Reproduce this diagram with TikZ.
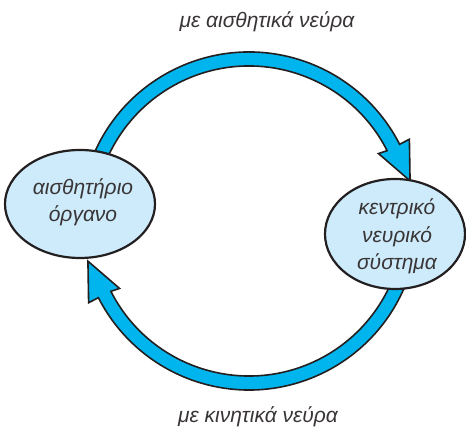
\documentclass[tikz,border=0pt]{standalone}
\usepackage{fontspec}
\setmainfont{Liberation Sans}
\usetikzlibrary{shapes.geometric}
\definecolor{band}{RGB}{0,181,237}
\definecolor{ellfill}{RGB}{205,235,250}
\definecolor{ink}{RGB}{35,31,32}
\begin{document}
\begin{tikzpicture}[x=1pt,y=1pt,
  fatarrow/.style={fill=band, draw=ink, line width=1.6pt, line join=miter},
  organ/.style={ellipse, draw=ink, line width=2.2pt, fill=ellfill, inner sep=0pt},
  organtext/.style={align=center, inner sep=0pt, anchor=base, text=ink!90,
    font=\itshape\fontsize{21}{27.5}\selectfont},
  lab/.style={inner sep=0pt, anchor=base, text=ink!90, font=\itshape\fontsize{21}{24}\selectfont}]
\useasboundingbox (0,0) rectangle (466,427);
\coordinate (c) at (249,206);
% top arrow (sensory nerves)
\draw[fatarrow] ([shift={(160:169)}]c) arc[start angle=160, end angle=27, radius=169]
  -- ([shift={(27:180)}]c) -- ([shift={(14:166)}]c) -- ([shift={(27.5:146)}]c)
  -- ([shift={(27:155)}]c) arc[start angle=27, end angle=160, radius=155] -- cycle;
% bottom arrow (motor nerves)
\draw[fatarrow] ([shift={(-15:169)}]c) arc[start angle=-15, end angle=-153, radius=169]
  -- ([shift={(-153:180)}]c) -- ([shift={(-166:166)}]c) -- ([shift={(-152.5:146)}]c)
  -- ([shift={(-153:155)}]c) arc[start angle=-153, end angle=-15, radius=155] -- cycle;
% organs
\node[organ, minimum width=150, minimum height=108] (sense) at (80,223) {};
\node[organ, minimum width=140, minimum height=110] (cns) at (395,193) {};
\node[organtext] (sensetext) at (83,205) {αισθητήριο\\όργανο};
\node[organtext] (cnstext) at (397,157) {κεντρικό\\νευρικό\\σύστημα};
% labels
\node[lab] (toplab) at (267,399) {με αισθητικά νεύρα};
\node[lab] (botlab) at (258,4) {με κινητικά νεύρα};
\end{tikzpicture}
\end{document}
